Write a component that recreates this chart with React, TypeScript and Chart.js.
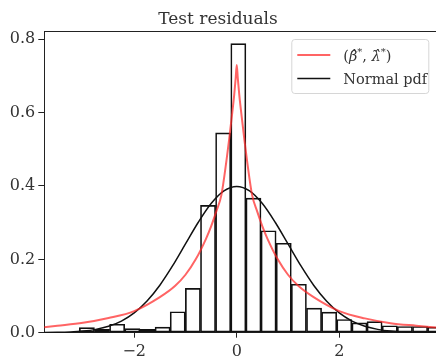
import React, { useEffect, useRef } from "react";
import { Chart, registerables } from "chart.js";

Chart.register(...registerables);

// ---- data ----
const titleText = "Test residuals";
const legendLabels = ["(β̂*, λ̂*)", "Normal pdf"];

const binCenters = [
  -2.923, -2.628, -2.333, -2.037, -1.742, -1.446, -1.151, -0.855, -0.56, -0.265,
  0.031, 0.326, 0.621, 0.917, 1.212, 1.508, 1.803, 2.098, 2.394, 2.689,
  2.985, 3.28, 3.576, 3.871,
];
const binHeights = [
  0.014, 0.009, 0.023, 0.011, 0.009, 0.015, 0.057, 0.121, 0.347, 0.545,
  0.788, 0.367, 0.278, 0.244, 0.132, 0.067, 0.056, 0.036, 0.027, 0.03,
  0.019, 0.017, 0.017, 0.015,
];

const fitX = [
  -3.9, -3.5, -3.0, -2.5, -2.0, -1.5, -1.2, -1.0, -0.8, -0.6, -0.5, -0.4, -0.3,
  -0.2, -0.15, -0.1, -0.05, -0.02, 0, 0.02, 0.05, 0.1, 0.15, 0.2, 0.3, 0.4, 0.5,
  0.6, 0.8, 1.0, 1.2, 1.5, 2.0, 2.5, 3.0, 3.5, 3.9,
];
const fitY = [
  0.013, 0.019, 0.027, 0.04, 0.059, 0.097, 0.128, 0.158, 0.2, 0.256, 0.29, 0.33,
  0.375, 0.47, 0.525, 0.585, 0.648, 0.695, 0.73, 0.695, 0.648, 0.585, 0.525,
  0.47, 0.375, 0.33, 0.29, 0.256, 0.2, 0.158, 0.128, 0.097, 0.059, 0.039, 0.026,
  0.019, 0.014,
];

const normX = [
  -3.9, -3.5, -3.25, -3.0, -2.75, -2.5, -2.25, -2.0, -1.75, -1.5, -1.25, -1.0,
  -0.75, -0.5, -0.25, 0, 0.25, 0.5, 0.75, 1.0, 1.25, 1.5, 1.75, 2.0, 2.25, 2.5,
  2.75, 3.0, 3.25, 3.5, 3.9,
];
const normY = [
  0.0002, 0.0009, 0.002, 0.0044, 0.0091, 0.0175, 0.0317, 0.054, 0.0863, 0.1295,
  0.1826, 0.242, 0.3011, 0.3521, 0.3867, 0.3989, 0.3867, 0.3521, 0.3011, 0.242,
  0.1826, 0.1295, 0.0863, 0.054, 0.0317, 0.0175, 0.0091, 0.0044, 0.002, 0.0009,
  0.0002,
];

const xTicks = [-2, 0, 2];
const yTicks = [0, 0.2, 0.4, 0.6, 0.8];
const xRange = [-3.754, 3.887];
const yRange = [0, 0.8226];

// ---- styles ----
const FONT = '"DejaVu Serif", serif';
const TEXT = "#333";
const AXIS = "#222";
const RED = "rgba(255,40,40,0.72)";
const BLACK = "#111";

const frameAndLegend = {
  id: "frameAndLegend",
  afterDatasetsDraw(chart: any) {
    const { ctx, chartArea } = chart;
    ctx.save();
    // top spine
    ctx.strokeStyle = AXIS;
    ctx.lineWidth = 1;
    ctx.beginPath();
    ctx.moveTo(chartArea.left, Math.round(chartArea.top) + 0.5);
    ctx.lineTo(chartArea.right, Math.round(chartArea.top) + 0.5);
    ctx.stroke();

    // legend box
    const bx = chartArea.left + 247;
    const by = chartArea.top + 8;
    const bw = 137;
    const bh = 54;
    ctx.beginPath();
    ctx.roundRect(bx + 0.5, by + 0.5, bw, bh, 3);
    ctx.fillStyle = "rgba(255,255,255,0.8)";
    ctx.fill();
    ctx.strokeStyle = "#d6d6d6";
    ctx.stroke();

    const lx0 = bx + 6;
    const lx1 = bx + 39;
    const tx = bx + 52;
    const rows = [by + 16, by + 39.5];
    const colors = [RED, BLACK];
    const widths = [2, 1.5];
    rows.forEach((y, i) => {
      ctx.strokeStyle = colors[i];
      ctx.lineWidth = widths[i];
      ctx.beginPath();
      ctx.moveTo(lx0, y);
      ctx.lineTo(lx1, y);
      ctx.stroke();
    });

    ctx.fillStyle = TEXT;
    ctx.textBaseline = "alphabetic";
    ctx.textAlign = "left";
    // first label: (β̂*, λ̂*) with raised asterisks
    const base1 = rows[0] + 6;
    const norm = `14.5px ${FONT}`;
    const ital = `italic 14.5px ${FONT}`;
    const sup = `10px ${FONT}`;
    const parts: [string, string, number][] = [
      ["(", norm, 0],
      ["β̂", ital, 0],
      ["*", sup, -6],
      [", ", norm, 0],
      ["λ̂", ital, 0],
      ["*", sup, -6],
      [")", norm, 0],
    ];
    let x = tx;
    for (const [t, f, dy] of parts) {
      ctx.font = f;
      ctx.fillText(t, x, base1 + dy);
      x += ctx.measureText(t).width;
    }
    ctx.font = norm;
    ctx.fillText(legendLabels[1], tx, rows[1] + 5.5);
    ctx.restore();
  },
};

export default function App() {
  const ref = useRef<HTMLCanvasElement>(null);

  useEffect(() => {
    const chart = new Chart(ref.current as HTMLCanvasElement, {
      type: "bar",
      data: {
        datasets: [
          {
            type: "line",
            label: legendLabels[0],
            data: fitX.map((x, i) => ({ x, y: fitY[i] })),
            borderColor: RED,
            borderWidth: 2,
            pointRadius: 0,
            cubicInterpolationMode: "monotone",
            order: 0,
          } as any,
          {
            type: "line",
            label: legendLabels[1],
            data: normX.map((x, i) => ({ x, y: normY[i] })),
            borderColor: BLACK,
            borderWidth: 1.5,
            pointRadius: 0,
            cubicInterpolationMode: "monotone",
            order: 1,
          } as any,
          {
            type: "bar",
            label: "histogram",
            data: binCenters.map((x, i) => ({ x, y: binHeights[i] })),
            backgroundColor: "rgba(255,255,255,0)",
            borderColor: BLACK,
            borderWidth: 1,
            borderSkipped: false,
            barPercentage: 1,
            categoryPercentage: 1,
            order: 2,
          } as any,
        ],
      },
      options: {
        animation: false,
        responsive: false,
        devicePixelRatio: 1,
        layout: { padding: 0 },
        plugins: {
          legend: { display: false },
          tooltip: { enabled: false },
          title: {
            display: true,
            text: titleText,
            color: TEXT,
            font: { family: FONT, size: 17, weight: "normal" },
            padding: { top: 9, bottom: 1.6 },
          },
        },
        scales: {
          x: {
            type: "linear",
            min: xRange[0],
            max: xRange[1],
            offset: false,
            grid: {
              display: true,
              drawOnChartArea: false,
              drawTicks: true,
              tickLength: 5,
              tickColor: AXIS,
              offset: false,
            },
            border: { display: true, color: AXIS, width: 1 },
            ticks: {
              font: { family: FONT, size: 16 },
              color: TEXT,
              padding: 5,
              maxRotation: 0,
              callback: (v: any) => (v < 0 ? "\u2212" + Math.abs(v) : String(v)),
            },
            afterBuildTicks: (s: any) => {
              s.ticks = xTicks.map((v) => ({ value: v }));
            },
            afterFit: (s: any) => {
              s.height = 26.3;
            },
          },
          y: {
            type: "linear",
            min: yRange[0],
            max: yRange[1],
            grid: {
              display: true,
              drawOnChartArea: false,
              drawTicks: true,
              tickLength: 6,
              tickColor: AXIS,
            },
            border: { display: true, color: AXIS, width: 1 },
            ticks: {
              font: { family: FONT, size: 16 },
              color: TEXT,
              padding: 3,
              callback: (v: any) => Number(v).toFixed(1),
            },
            afterBuildTicks: (s: any) => {
              s.ticks = yTicks.map((v) => ({ value: v }));
            },
            afterFit: (s: any) => {
              s.width = 44.3;
            },
          },
        },
      } as any,
      plugins: [frameAndLegend],
    });
    return () => chart.destroy();
  }, []);

  return (
    <div
      style={{
        position: "fixed",
        left: 0,
        top: 0,
        width: 436,
        height: 359,
        background: "#fff",
        overflow: "hidden",
      }}
    >
      <canvas
        ref={ref}
        width={436}
        height={359}
        style={{ display: "block", width: 436, height: 359 }}
      />
    </div>
  );
}
